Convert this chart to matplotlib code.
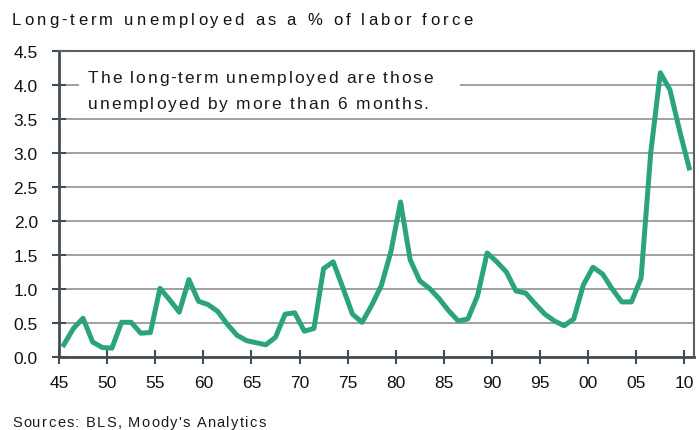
import numpy as np
import matplotlib
matplotlib.use('Agg')
import matplotlib.pyplot as plt
from matplotlib.font_manager import FontProperties
from matplotlib.patches import Rectangle

# annual long-term unemployment rate, % of labor force
years = list(range(1945, 2011))
rate = [0.18, 0.42, 0.57, 0.22, 0.14, 0.13, 0.51, 0.51, 0.35, 0.36,
        1.01, 0.84, 0.66, 1.14, 0.82, 0.77, 0.67, 0.48, 0.32, 0.24,
        0.21, 0.18, 0.29, 0.63, 0.65, 0.38, 0.42, 1.30, 1.40, 1.02,
        0.63, 0.51, 0.76, 1.05, 1.55, 2.28, 1.43, 1.12, 1.01, 0.86,
        0.68, 0.53, 0.56, 0.90, 1.53, 1.40, 1.25, 0.97, 0.94, 0.78,
        0.63, 0.53, 0.46, 0.56, 1.06, 1.32, 1.22, 1.00, 0.81, 0.81,
        1.16, 3.00, 4.18, 3.93, 3.33, 2.78]

xticks = list(range(1945, 2011, 5))
xtick_labels = [str(y)[2:] for y in xticks]
yticks = [0.0, 0.5, 1.0, 1.5, 2.0, 2.5, 3.0, 3.5, 4.0, 4.5]

title = 'Long-term unemployed as a % of labor force'
note = ['The long-term unemployed are those', 'unemployed by more than 6 months.']
source = "Sources: BLS, Moody's Analytics"

plt.rcParams['font.family'] = ['Liberation Sans', 'DejaVu Sans']

W, H = 699, 431
fig = plt.figure(figsize=(W / 100, H / 100), dpi=100)
ax = fig.add_axes([59/W, 1 - 358/H, (694 - 59)/W, (358 - 52)/H])


def spaced_text(x_px, y_px, s, size, spacing, color='#111111'):
    # matplotlib has no letter spacing, so place the characters one by one
    r = fig.canvas.get_renderer()
    fp = FontProperties(family='Liberation Sans', size=size)
    base = r.get_text_width_height_descent('|', fp, ismath=False)[0]
    for i, c in enumerate(s):
        if c == ' ':
            continue
        w = r.get_text_width_height_descent(s[:i] + '|', fp, ismath=False)[0] - base
        fig.text((x_px + w + i * spacing) / W, 1 - y_px / H, c,
                 fontproperties=fp, color=color, va='baseline', zorder=6)


x = np.array(years) + 0.5
ax.plot(x, rate, color='#2ba37f', lw=3.6, zorder=3)

ax.set_xlim(1945, 2011)
ax.set_ylim(0, 4.5)
ax.set_xticks(xticks)
ax.set_xticklabels(xtick_labels)
ax.set_yticks(yticks)
ax.set_yticklabels(['%.1f' % v for v in yticks])

ax.grid(axis='y', color='#999999', lw=1.3, zorder=1)
for side in ['left', 'bottom']:
    ax.spines[side].set_color('#454c55')
    ax.spines[side].set_linewidth(2)
for side in ['top', 'right']:
    ax.spines[side].set_color('#5a6068')
    ax.spines[side].set_linewidth(1.5)
ax.tick_params(axis='both', direction='inout', length=9.5, width=1.5,
               color='#454c55', labelsize=12.5, labelcolor='#111111')
ax.tick_params(axis='y', pad=10.5)
ax.tick_params(axis='x', pad=8)

# white box behind the note, hides the 4.0 grid line
ax.add_patch(Rectangle((79/W, 1 - 116/H), (460 - 79)/W, (116 - 58)/H,
                       transform=fig.transFigure, fc='white', ec='none', zorder=2))

spaced_text(88, 83, note[0], 12.5, 1.8, '#1a1a1a')
spaced_text(88, 109, note[1], 12.5, 1.8, '#1a1a1a')
spaced_text(11.5, 25, title, 12, 3.18)
spaced_text(12, 427, source, 10.5, 1.3, '#1a1a1a')

fig.savefig('out.png', dpi=100)
